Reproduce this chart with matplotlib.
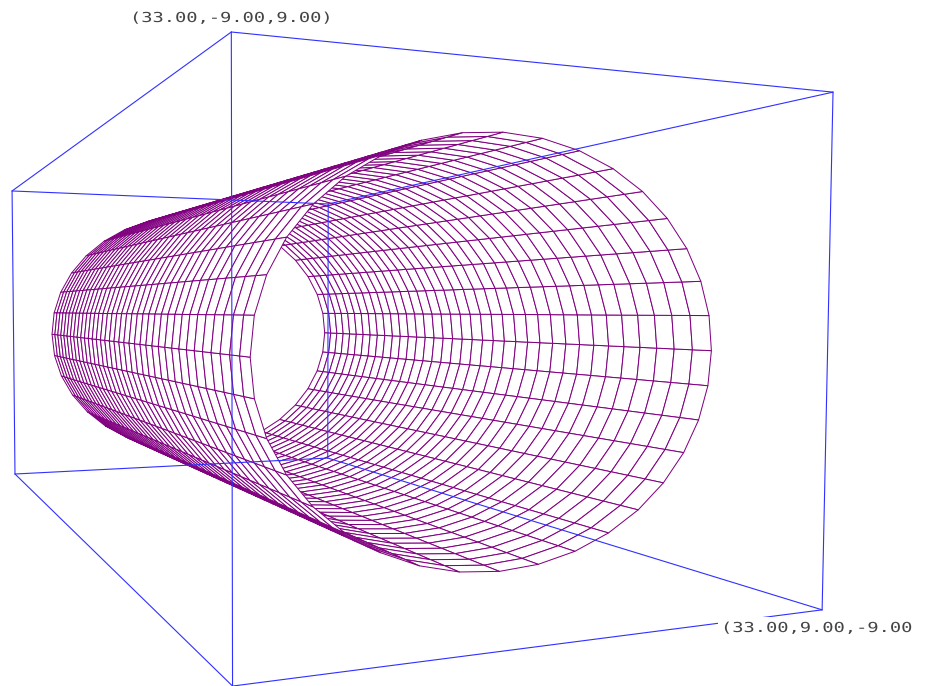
import numpy as np
import matplotlib
matplotlib.use('Agg')
import matplotlib.pyplot as plt
from matplotlib.collections import PolyCollection
from matplotlib.patches import Rectangle
from matplotlib.patheffects import AbstractPathEffect
from matplotlib.transforms import Affine2D

# Model data
radius = 7.5
half_length = 27.5
n_rings = 36
n_sectors = 36
box_x = [-33.0, 33.0]
box_y = [-9.0, 9.0]
box_z = [-9.0, 9.0]
labels = ["(33.00,-9.00,9.00)", "(33.00,9.00,-9.00"]

# Camera of the view (world -> pixel homography)
camera = np.array([
    [1.699602, 25.280549, -0.220238, 301.121874],
    [-3.454314, 2.599568, -20.598325, 340.437936],
    [-0.011125, 0.008193, -0.000783, 1.0],
])

MESH = '#800080'
BOX = '#3030ff'
TEXT = '#444444'


def project(pts):
    pts = np.asarray(pts, float)
    h = np.c_[pts, np.ones(len(pts))] @ camera.T
    return h[:, :2] / h[:, 2:], h[:, 2]


class Stretch(AbstractPathEffect):
    def __init__(self, sx):
        super().__init__()
        self.sx = sx

    def draw_path(self, renderer, gc, tpath, affine, rgbFace=None):
        renderer.draw_path(gc, tpath, Affine2D().scale(self.sx, 1) + affine, rgbFace)


fig = plt.figure(figsize=(9.26, 6.86), dpi=100)
ax = fig.add_axes([0, 0, 1, 1])
ax.set_xlim(0, 926)
ax.set_ylim(686, 0)
ax.axis('off')

# Cylinder facets, painted far to near so that hidden lines vanish
xs = np.linspace(-half_length, half_length, n_rings + 1)
th = np.linspace(0, 2 * np.pi, n_sectors + 1)
polys, depth = [], []
for i in range(n_rings):
    for j in range(n_sectors):
        q = [(xs[a], radius * np.cos(th[b]), radius * np.sin(th[b]))
             for a, b in ((i, j), (i + 1, j), (i + 1, j + 1), (i, j + 1))]
        uv, w = project(q)
        polys.append(uv)
        depth.append(w.mean())
order = np.argsort(depth)[::-1]
ax.add_collection(PolyCollection([polys[k] for k in order], facecolors='white',
                                 edgecolors=MESH, linewidths=0.72, zorder=2))

# Bounding box
corners = [(x, y, z) for x in box_x for y in box_y for z in box_z]
for a in range(8):
    for b in range(a + 1, 8):
        if sum(c1 != c2 for c1, c2 in zip(corners[a], corners[b])) == 1:
            uv, _ = project([corners[a], corners[b]])
            ax.plot(uv[:, 0], uv[:, 1], color=BOX, lw=0.8, zorder=3,
                    solid_capstyle='round', clip_on=True)

# Corner labels
ax.add_patch(Rectangle((718, 616.5), 208, 18, fc='white', ec='none', zorder=4))
for s, px, py in zip(labels, (130, 721), (22, 632)):
    ax.text(px, py, s, family='DejaVu Sans Mono', fontsize=9.9, color=TEXT,
            ha='left', va='baseline', zorder=5, path_effects=[Stretch(1.36)])

fig.savefig('out.png', dpi=100)
